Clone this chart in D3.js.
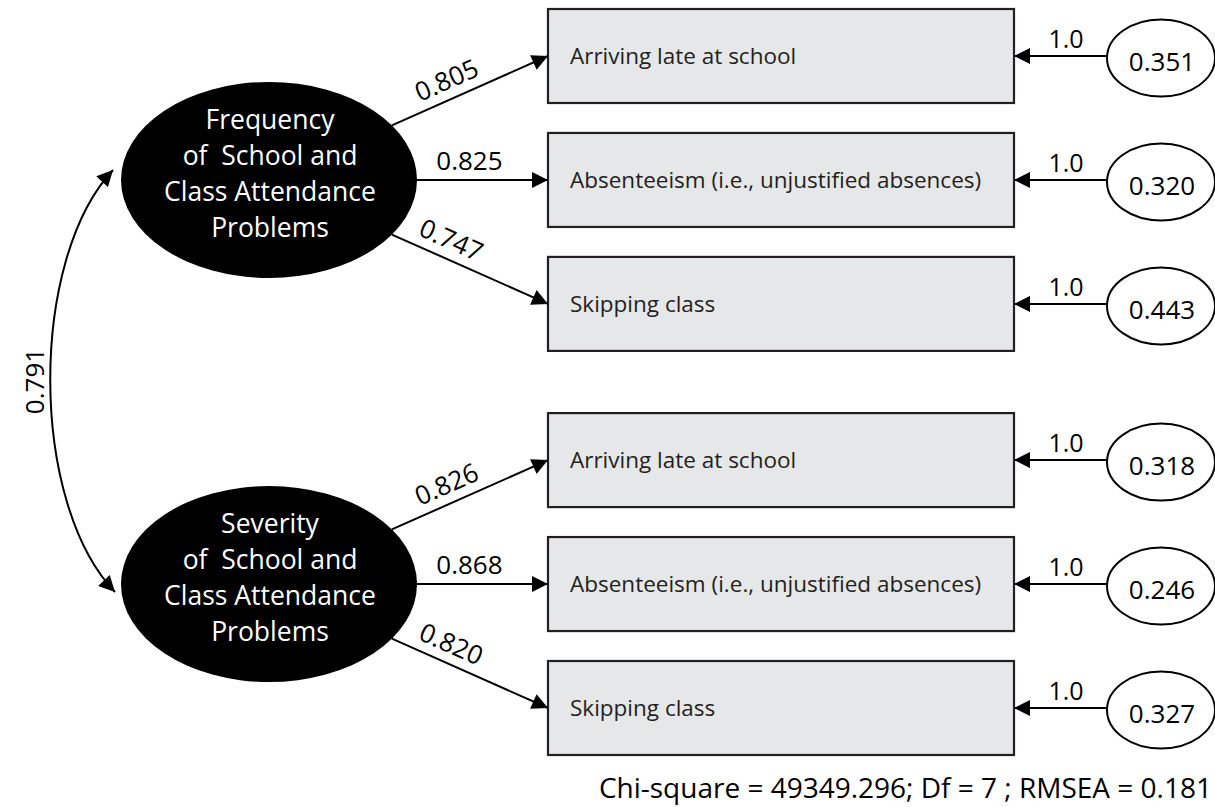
<!DOCTYPE html>
<html>
<head>
<meta charset="utf-8">
<script src="https://cdn.jsdelivr.net/npm/d3@7"></script>
<style>
  body { margin: 0; background: #fff; }
  text { font-family: "Open Sans", sans-serif; }
</style>
</head>
<body>
<div id="container"></div>
<script>
// model values
var latents = [
  ["Frequency", "of  School and", "Class Attendance", "Problems"],
  ["Severity", "of  School and", "Class Attendance", "Problems"]
];
var indicators = [
  "Arriving late at school", "Absenteeism (i.e., unjustified absences)", "Skipping class",
  "Arriving late at school", "Absenteeism (i.e., unjustified absences)", "Skipping class"
];
var loadings = ["0.805", "0.825", "0.747", "0.826", "0.868", "0.820"];
var errors = ["0.351", "0.320", "0.443", "0.318", "0.246", "0.327"];
var errorPaths = ["1.0", "1.0", "1.0", "1.0", "1.0", "1.0"];
var correlation = "0.791";
var fitText = "Chi-square = 49349.296; Df = 7 ; RMSEA = 0.181";

// set the dimensions of the drawing
var width = 1215, height = 807;

var svg = d3.select("#container")
  .append("svg")
    .attr("width", width)
    .attr("height", height);

// arrowhead
svg.append("defs").append("marker")
    .attr("id", "arrow")
    .attr("viewBox", "0 0 10 10")
    .attr("refX", 10)
    .attr("refY", 5)
    .attr("markerUnits", "userSpaceOnUse")
    .attr("markerWidth", 17)
    .attr("markerHeight", 16)
    .attr("orient", "auto-start-reverse")
  .append("path")
    .attr("d", "M0,0 L10,5 L0,10 Z")
    .attr("fill", "#000");

// row positions: two groups of three with a gap between them
var gap = 0.26;
var slot = function(i) { return i + (i >= 3 ? gap : 0); };
var y = d3.scaleLinear()
  .domain([0, 5 + gap])
  .range([56, 708]);

var x = d3.scaleLinear()
  .domain([0, 1])
  .range([548, 1014]);   // box left / right

var boxH = 94;
var latentX = 269, latentRx = 148, latentRy = 98;
var errX = 1161, errRx = 54, errRy = 38.5;

var latentY = function(g) { return y(slot(g * 3 + 1)); };

// latent variables
var lat = svg.selectAll(".latent")
  .data(latents)
  .enter()
  .append("g");

lat.append("ellipse")
    .attr("cx", latentX)
    .attr("cy", function(d, i) { return latentY(i); })
    .attr("rx", latentRx)
    .attr("ry", latentRy)
    .attr("fill", "#000");

lat.each(function(d, g) {
  d3.select(this).selectAll("text")
    .data(d)
    .enter()
    .append("text")
      .attr("x", latentX + 1)
      .attr("y", function(t, k) { return latentY(g) - 51 + k * 36; })
      .attr("text-anchor", "middle")
      .attr("fill", "#fff")
      .style("font-size", "26.5px")
      .style("white-space", "pre")
      .text(function(t) { return t; });
});

// observed indicators
svg.selectAll(".box")
  .data(indicators)
  .enter()
  .append("rect")
    .attr("x", x(0))
    .attr("y", function(d, i) { return y(slot(i)) - boxH / 2; })
    .attr("width", x(1) - x(0))
    .attr("height", boxH)
    .attr("fill", "#e6e7e8")
    .attr("stroke", "#231f20")
    .attr("stroke-width", 2.2);

svg.selectAll(".boxlabel")
  .data(indicators)
  .enter()
  .append("text")
    .attr("x", x(0) + 22)
    .attr("y", function(d, i) { return y(slot(i)) + 8; })
    .style("font-size", "22.5px")
    .attr("fill", "#231f20")
    .text(function(d) { return d; });

// loading paths
var paths = indicators.map(function(d, i) {
  var g = Math.floor(i / 3);
  var cy = latentY(g), ty = y(slot(i));
  var dx = x(0) - latentX, dy = ty - cy;
  var t = 1 / Math.sqrt(Math.pow(dx / latentRx, 2) + Math.pow(dy / latentRy, 2));
  return { x1: latentX + dx * t, y1: cy + dy * t, x2: x(0), y2: ty, label: loadings[i] };
});

svg.selectAll(".loading")
  .data(paths)
  .enter()
  .append("line")
    .attr("x1", function(d) { return d.x1; })
    .attr("y1", function(d) { return d.y1; })
    .attr("x2", function(d) { return d.x2; })
    .attr("y2", function(d) { return d.y2; })
    .attr("stroke", "#000")
    .attr("stroke-width", 2)
    .attr("marker-end", "url(#arrow)");

svg.selectAll(".loadlabel")
  .data(paths)
  .enter()
  .append("text")
    .attr("transform", function(d) {
      // labels sit a bit nearer the factor on the downward paths
      var f = d.y2 > d.y1 + 1 ? 0.33 : 0.4;
      var px = d.x1 + (d.x2 - d.x1) * f, py = d.y1 + (d.y2 - d.y1) * f;
      var ang = Math.atan2(d.y2 - d.y1, d.x2 - d.x1);
      var off = 10;
      px += Math.sin(ang) * off;
      py -= Math.cos(ang) * off;
      return "translate(" + px + "," + py + ")rotate(" + (ang * 180 / Math.PI) + ")";
    })
    .attr("text-anchor", "middle")
    .style("font-size", "26px")
    .text(function(d) { return d.label; });

// error terms
svg.selectAll(".errpath")
  .data(errors)
  .enter()
  .append("line")
    .attr("x1", errX - errRx)
    .attr("y1", function(d, i) { return y(slot(i)); })
    .attr("x2", x(1))
    .attr("y2", function(d, i) { return y(slot(i)); })
    .attr("stroke", "#000")
    .attr("stroke-width", 2)
    .attr("marker-end", "url(#arrow)");

svg.selectAll(".errpathlabel")
  .data(errorPaths)
  .enter()
  .append("text")
    .attr("x", 1066)
    .attr("y", function(d, i) { return y(slot(i)) - 8; })
    .attr("text-anchor", "middle")
    .style("font-size", "25px")
    .text(function(d) { return d; });

svg.selectAll(".err")
  .data(errors)
  .enter()
  .append("ellipse")
    .attr("cx", errX)
    .attr("cy", function(d, i) { return y(slot(i)) + 2; })
    .attr("rx", errRx)
    .attr("ry", errRy)
    .attr("fill", "#fff")
    .attr("stroke", "#000")
    .attr("stroke-width", 2);

svg.selectAll(".errlabel")
  .data(errors)
  .enter()
  .append("text")
    .attr("x", errX + 1)
    .attr("y", function(d, i) { return y(slot(i)) + 15; })
    .attr("text-anchor", "middle")
    .style("font-size", "26px")
    .text(function(d) { return d; });

// correlation between the factors
var curveTop = latentY(0) - 10, curveBot = latentY(1) + 8;
var curve = d3.path();
curve.moveTo(113, curveTop);
curve.bezierCurveTo(29, curveTop + 90, 29, curveBot - 90, 115, curveBot);

svg.append("path")
    .attr("d", curve.toString())
    .attr("fill", "none")
    .attr("stroke", "#000")
    .attr("stroke-width", 2)
    .attr("marker-start", "url(#arrow)")
    .attr("marker-end", "url(#arrow)");

svg.append("text")
    .attr("transform", "translate(44," + ((curveTop + curveBot) / 2) + ")rotate(-90)")
    .attr("text-anchor", "middle")
    .style("font-size", "26px")
    .text(correlation);

// fit statistics
svg.append("text")
    .attr("x", 1212)
    .attr("y", 798)
    .attr("text-anchor", "end")
    .style("font-size", "28px")
    .text(fitText);
</script>
</body>
</html>
